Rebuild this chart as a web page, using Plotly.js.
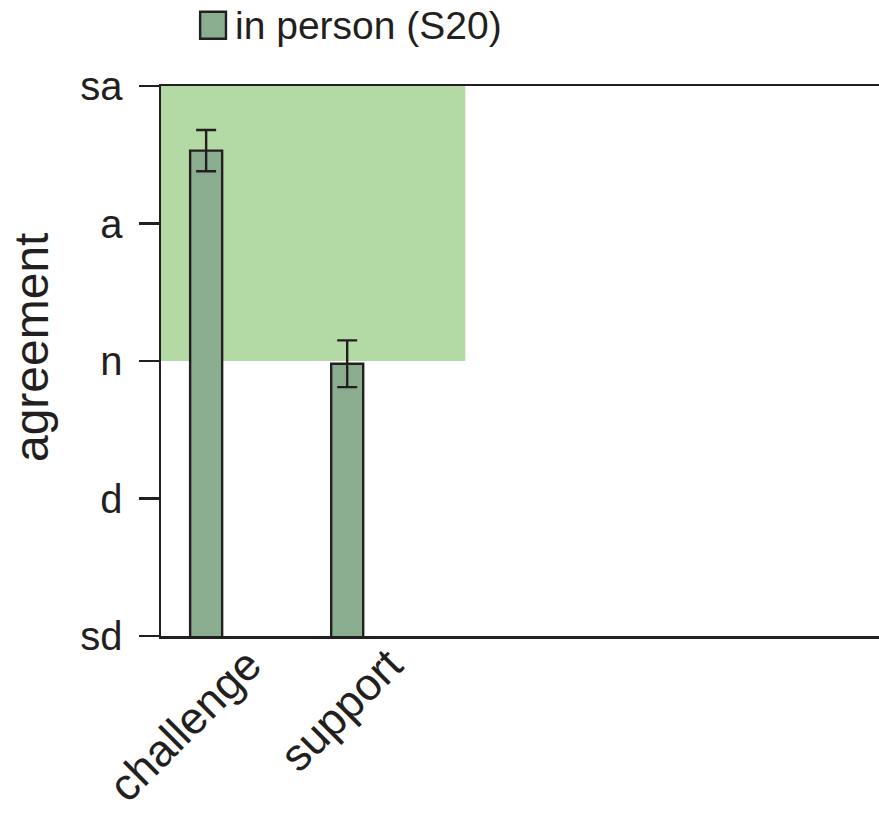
<!DOCTYPE html>
<html>
<head>
<meta charset="utf-8">
<script src="https://cdn.plot.ly/plotly-3.0.1.min.js"></script>
<style>html,body{margin:0;padding:0;background:#fff;}#chart{width:879px;height:817px;}</style>
</head>
<body>
<div id="chart"></div>
<script>
const categories = ['challenge', 'support'];
const seriesName = 'in person (S20)';
const means = [4.53, 2.98];
const errors = [0.15, 0.17];
const yTickVals = [1, 2, 3, 4, 5];
const yTickText = ['sd', 'd', 'n', 'a', 'sa'];
const yTitle = 'agreement';
const bandRange = [3, 5];

const ink = '#231f20';
const font = 'Liberation Sans, Arial, Helvetica, sans-serif';

const trace = {
  type: 'bar',
  x: categories,
  y: means,
  name: seriesName,
  width: 0.227,
  marker: {color: '#8aad90', line: {color: ink, width: 2.4}},
  error_y: {type: 'data', array: errors, visible: true, color: ink, thickness: 2.4, width: 10},
  showlegend: false
};

const layout = {
  width: 879, height: 817,
  margin: {l: 161, r: 0, t: 86, b: 181},
  paper_bgcolor: '#fff', plot_bgcolor: '#fff',
  font: {family: font, color: ink},
  xaxis: {
    type: 'category', range: [-0.32, 4.77],
    showline: true, linecolor: ink, linewidth: 2.5, mirror: true,
    ticks: '', showgrid: false, zeroline: false,
    tickangle: -45, tickfont: {size: 45, family: font, color: ink},
    ticklabelshift: 42, ticklabelstandoff: -18
  },
  yaxis: {
    range: [1, 5], tickvals: yTickVals, ticktext: yTickText,
    showline: true, linecolor: ink, linewidth: 2.5,
    ticks: 'outside', ticklen: 20, tickwidth: 2.5, tickcolor: ink,
    showgrid: false, zeroline: false,
    tickfont: {size: 40, family: font, color: ink},
    ticklabelstandoff: 8
  },
  shapes: [
    {type: 'rect', xref: 'x', yref: 'y', x0: -0.32, x1: 1.837, y0: bandRange[0], y1: bandRange[1],
     fillcolor: '#b3daa4', line: {width: 0}, layer: 'below'},
    {type: 'rect', xref: 'paper', yref: 'paper', x0: 0.0545, x1: 0.0905, y0: 1.086, y1: 1.135,
     fillcolor: '#8aad90', line: {color: ink, width: 2.4}}
  ],
  annotations: [
    {xref: 'paper', yref: 'paper', x: 0.1005, y: 1.11, xanchor: 'left', yanchor: 'middle',
     text: seriesName, showarrow: false, font: {size: 39, family: font, color: ink}},
    {xref: 'paper', yref: 'paper', x: -0.181, y: 0.5236, xanchor: 'center', yanchor: 'middle',
     textangle: -90, text: yTitle, showarrow: false, font: {size: 48, family: font, color: ink}}
  ]
};

Plotly.newPlot('chart', [trace], layout, {displayModeBar: false, staticPlot: true});
</script>
</body>
</html>
